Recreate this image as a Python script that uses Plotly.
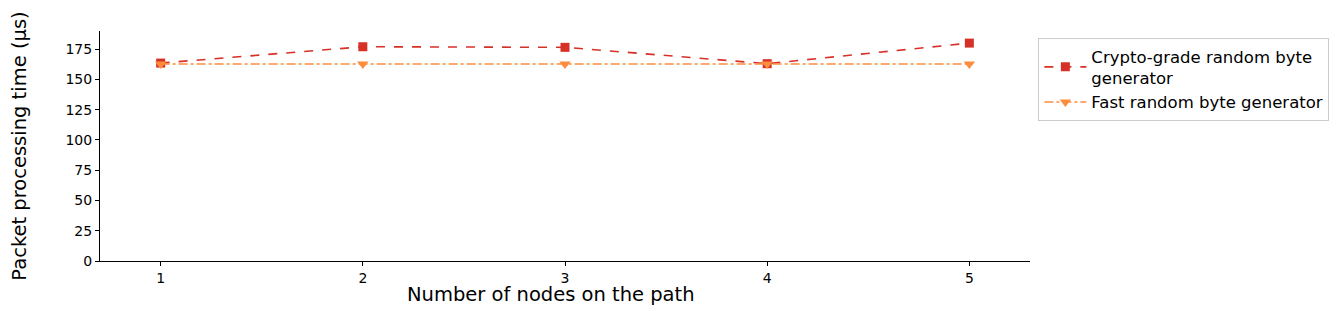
import plotly.graph_objects as go

nodes = [1, 2, 3, 4, 5]
crypto = [163.5, 177, 176.5, 163, 180]
fast = [162.8, 162.8, 162.8, 162.8, 162.8]

fig = go.Figure()

fig.add_trace(go.Scatter(
    x=nodes, y=crypto,
    mode='lines+markers',
    line=dict(color="#d73027", width=1.6, dash="dash"),
    marker=dict(symbol="square", size=9, color="#d73027"),
    name="Crypto-grade random byte<br>generator"))

fig.add_trace(go.Scatter(
    x=nodes, y=fast,
    mode='lines+markers',
    line=dict(color="#fd8d3c", width=1.6, dash="dashdot"),
    marker=dict(symbol="triangle-down", size=10, color="#fd8d3c"),
    name="Fast random byte generator"))

axis_common = dict(
    showline=True, linecolor="black", linewidth=1,
    ticks="outside", ticklen=4, tickcolor="black",
    showgrid=False, zeroline=False, automargin=False,
    tickfont=dict(size=14, color="black"),
)

fig.update_layout(
    width=1341, height=311,
    margin=dict(l=92, r=319, t=23, b=58),
    plot_bgcolor="white", paper_bgcolor="white",
    font=dict(family="DejaVu Sans", color="black"),
    xaxis=dict(range=[0.7, 5.3], tickvals=nodes, **axis_common),
    yaxis=dict(range=[0, 190], tickvals=[0, 25, 50, 75, 100, 125, 150, 175],
               title=dict(text="Packet processing time (µs)", font=dict(size=19.5), standoff=46),
               **axis_common),
    annotations=[dict(text="Number of nodes on the path", xref="paper", yref="paper",
                      x=0.485, y=-0.145, xanchor="center", yanchor="middle",
                      showarrow=False, font=dict(size=19.5))],
    legend=dict(x=1.009, y=0.97, xanchor="left", yanchor="top",
                bordercolor="#cccccc", borderwidth=1, itemwidth=42,
                font=dict(size=16.5), tracegroupgap=0),
    showlegend=True,
)

fig.write_html("out.html")
